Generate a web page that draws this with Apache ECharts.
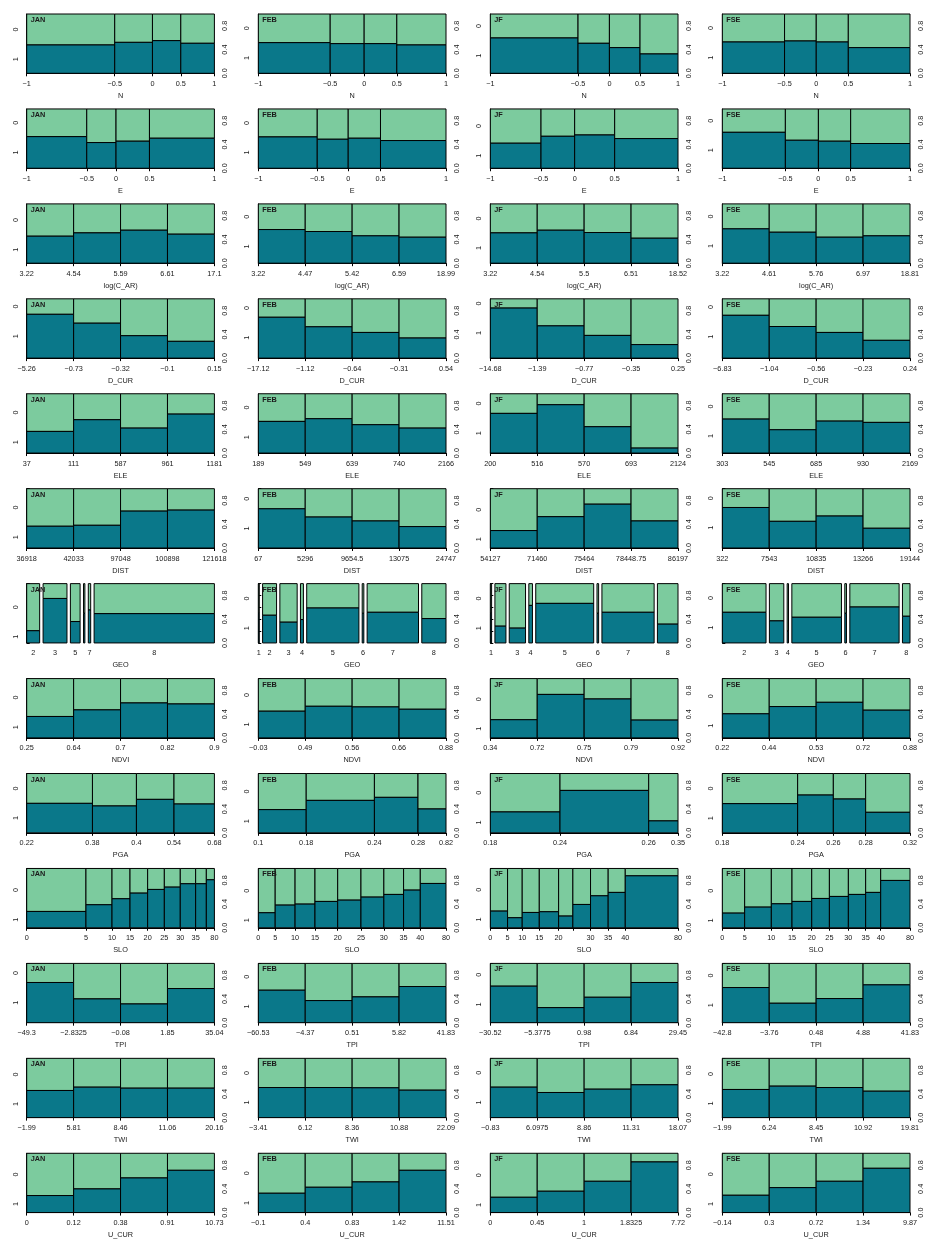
<!DOCTYPE html>
<html>
<head>
<meta charset="utf-8">
<script src="https://cdn.jsdelivr.net/npm/echarts@6/dist/echarts.min.js"></script>
<style>
html, body { margin: 0; padding: 0; background: #fff; }
#chart { width: 926px; height: 1240px; }
</style>
</head>
<body>
<div id="chart"></div>
<script>
// Spinograms of the binary response (1 = dark, 0 = light) against each predictor,
// one column per season subset.
const seasons = ['JAN', 'FEB', 'JF', 'FSE'];
const Q = [0.25, 0.25, 0.25, 0.25];

// ---- N ----
const N_breaks = [['-1','-0.5','0','0.5','1'], ['-1','-0.5','0','0.5','1'], ['-1','-0.5','0','0.5','1'], ['-1','-0.5','0','0.5','1']];
const N_share = [[0.469,0.201,0.151,0.179], [0.383,0.181,0.174,0.262], [0.467,0.167,0.163,0.202], [0.332,0.169,0.171,0.329]];
const N_prop1 = [[0.478,0.522,0.551,0.506], [0.517,0.500,0.500,0.478], [0.596,0.506,0.433,0.326], [0.528,0.545,0.528,0.433]];

// ---- E ----
const E_breaks = N_breaks;
const E_share = [[0.320,0.156,0.178,0.346], [0.314,0.165,0.172,0.349], [0.270,0.179,0.213,0.337], [0.336,0.176,0.172,0.316]];
const E_prop1 = [[0.533,0.433,0.456,0.506], [0.528,0.489,0.506,0.467], [0.422,0.539,0.561,0.500], [0.606,0.472,0.456,0.417]];

// ---- log(C_AR) ----
const CAR_breaks = [['3.22','4.54','5.59','6.61','17.1'], ['3.22','4.47','5.42','6.59','18.99'], ['3.22','4.54','5.5','6.51','18.52'], ['3.22','4.61','5.76','6.97','18.81']];
const CAR_share = [Q, Q, Q, Q];
const CAR_prop1 = [[0.455,0.511,0.556,0.489], [0.567,0.534,0.461,0.438], [0.511,0.556,0.517,0.421], [0.579,0.522,0.438,0.461]];

// ---- D_CUR ----
const DCUR_breaks = [['-5.26','-0.73','-0.32','-0.1','0.15'], ['-17.12','-1.12','-0.64','-0.31','0.54'], ['-14.68','-1.39','-0.77','-0.35','0.25'], ['-6.83','-1.04','-0.56','-0.23','0.24']];
const DCUR_share = [Q, Q, Q, Q];
const DCUR_prop1 = [[0.739,0.589,0.378,0.283], [0.689,0.528,0.433,0.339], [0.844,0.544,0.383,0.228], [0.722,0.533,0.433,0.300]];

// ---- ELE ----
const ELE_breaks = [['37','111','587','961','1181'], ['189','549','639','740','2166'], ['200','516','570','693','2124'], ['303','545','685','930','2169']];
const ELE_share = [Q, Q, Q, Q];
const ELE_prop1 = [[0.365,0.562,0.421,0.657], [0.534,0.579,0.478,0.421], [0.669,0.815,0.444,0.084], [0.573,0.393,0.539,0.517]];

// ---- DIST ----
const DIST_breaks = [['36918','42033','97048','100898','121618'], ['67','5296','9654.5','13075','24747'], ['54127','71460','75464','78448.75','86197'], ['322','7543','10835','13266','19144']];
const DIST_share = [Q, Q, Q, Q];
const DIST_prop1 = [[0.367,0.383,0.622,0.639], [0.661,0.522,0.456,0.361], [0.294,0.528,0.739,0.456], [0.683,0.450,0.539,0.333]];

// ---- GEO (categorical) ----
const GEO_levels = [['2','3','5','6','7','8'], ['1','2','3','4','5','6','7','8'], ['1','2','3','4','5','6','7','8'], ['2','3','4','5','6','7','8']];
const GEO_share = [[0.076,0.140,0.057,0.008,0.014,0.705], [0.006,0.085,0.105,0.018,0.317,0.010,0.312,0.147], [0.008,0.067,0.099,0.022,0.352,0.010,0.317,0.125], [0.261,0.086,0.008,0.296,0.010,0.294,0.045]];
const GEO_prop1 = [[0.206,0.750,0.361,0.500,0.556,0.494], [0.500,0.467,0.350,0.394,0.589,0.500,0.517,0.411], [0.500,0.283,0.250,0.633,0.667,0.500,0.517,0.317], [0.517,0.372,0.200,0.433,0.500,0.606,0.450]];
const GEO_hidden = [['6'], [], ['2'], []];

// ---- NDVI ----
const NDVI_breaks = [['0.25','0.64','0.7','0.82','0.9'], ['-0.03','0.49','0.56','0.66','0.88'], ['0.34','0.72','0.75','0.79','0.92'], ['0.22','0.44','0.53','0.72','0.88']];
const NDVI_share = [Q, Q, Q, Q];
const NDVI_prop1 = [[0.361,0.472,0.589,0.572], [0.450,0.533,0.522,0.483], [0.306,0.733,0.656,0.300], [0.406,0.528,0.600,0.467]];

// ---- PGA ----
const PGA_breaks = [['0.22','0.38','0.4','0.54','0.68'], ['0.1','0.18','0.24','0.28','0.82'], ['0.18','0.24','0.26','0.35'], ['0.18','0.24','0.26','0.28','0.32']];
const PGA_share = [[0.350,0.234,0.200,0.215], [0.255,0.363,0.232,0.149], [0.371,0.472,0.156], [0.401,0.190,0.172,0.236]];
const PGA_prop1 = [[0.497,0.453,0.564,0.486], [0.391,0.547,0.598,0.402], [0.352,0.715,0.201], [0.492,0.637,0.570,0.346]];

// ---- SLO ----
const SLO_b = ['0','5','10','15','20','25','30','35','40','80'];
const SLO_breaks = [SLO_b, SLO_b, SLO_b, SLO_b];
const SLO_share = [[0.316,0.139,0.096,0.094,0.089,0.085,0.082,0.057,0.043], [0.090,0.106,0.106,0.121,0.124,0.122,0.105,0.089,0.137], [0.092,0.078,0.091,0.103,0.076,0.094,0.094,0.091,0.281], [0.119,0.142,0.110,0.105,0.094,0.101,0.092,0.080,0.156]];
const SLO_prop1 = [[0.275,0.388,0.489,0.584,0.646,0.685,0.742,0.742,0.809], [0.253,0.382,0.399,0.444,0.466,0.517,0.562,0.635,0.747], [0.281,0.169,0.258,0.270,0.197,0.393,0.539,0.596,0.876], [0.247,0.348,0.404,0.444,0.494,0.528,0.562,0.596,0.798]];
const SLO_hidden = [['40'], [], ['25'], []];

// ---- TPI ----
const TPI_breaks = [['-49.3','-2.8325','-0.08','1.85','35.04'], ['-60.53','-4.37','0.51','5.82','41.83'], ['-30.52','-5.3775','0.98','6.84','29.45'], ['-42.8','-3.76','0.48','4.88','41.83']];
const TPI_share = [Q, Q, Q, Q];
const TPI_prop1 = [[0.678,0.401,0.316,0.576], [0.548,0.373,0.435,0.610], [0.616,0.254,0.429,0.678], [0.593,0.328,0.407,0.638]];

// ---- TWI ----
const TWI_breaks = [['-1.99','5.81','8.46','11.06','20.16'], ['-3.41','6.12','8.36','10.88','22.09'], ['-0.83','6.0975','8.86','11.31','18.07'], ['-1.99','6.24','8.45','10.92','19.81']];
const TWI_share = [Q, Q, Q, Q];
const TWI_prop1 = [[0.458,0.514,0.497,0.497], [0.508,0.508,0.503,0.463], [0.514,0.424,0.480,0.554], [0.475,0.531,0.508,0.446]];

// ---- U_CUR ----
const UCUR_breaks = [['0','0.12','0.38','0.91','10.73'], ['-0.1','0.4','0.83','1.42','11.51'], ['0','0.45','1','1.8325','7.72'], ['-0.14','0.3','0.72','1.34','9.87']];
const UCUR_share = [Q, Q, Q, Q];
const UCUR_prop1 = [[0.287,0.399,0.584,0.713], [0.326,0.427,0.517,0.713], [0.258,0.360,0.528,0.854], [0.292,0.421,0.528,0.747]];

const rows = [
  { name: 'N', labels: N_breaks, share: N_share, prop1: N_prop1 },
  { name: 'E', labels: E_breaks, share: E_share, prop1: E_prop1 },
  { name: 'log(C_AR)', labels: CAR_breaks, share: CAR_share, prop1: CAR_prop1 },
  { name: 'D_CUR', labels: DCUR_breaks, share: DCUR_share, prop1: DCUR_prop1 },
  { name: 'ELE', labels: ELE_breaks, share: ELE_share, prop1: ELE_prop1 },
  { name: 'DIST', labels: DIST_breaks, share: DIST_share, prop1: DIST_prop1 },
  { name: 'GEO', labels: GEO_levels, share: GEO_share, prop1: GEO_prop1, hidden: GEO_hidden, factor: true },
  { name: 'NDVI', labels: NDVI_breaks, share: NDVI_share, prop1: NDVI_prop1 },
  { name: 'PGA', labels: PGA_breaks, share: PGA_share, prop1: PGA_prop1 },
  { name: 'SLO', labels: SLO_breaks, share: SLO_share, prop1: SLO_prop1, hidden: SLO_hidden },
  { name: 'TPI', labels: TPI_breaks, share: TPI_share, prop1: TPI_prop1 },
  { name: 'TWI', labels: TWI_breaks, share: TWI_share, prop1: TWI_prop1 },
  { name: 'U_CUR', labels: UCUR_breaks, share: UCUR_share, prop1: UCUR_prop1 }
];

const DARK = '#0a788a';
const LIGHT = '#7ccb9e';
const INK = '#1a1a1a';
const FONT = '"Liberation Sans", Arial, Helvetica, sans-serif';
const FS = 7.3;
const OFF = 0.02;           // gap between categorical bars

const COL_LEFT = [26.7, 258.3, 490.3, 722.3];
const ROW_TOP0 = 14, ROW_STEP = 94.94;
const GW = 187.7, GH = 59.3;

const option = {
  backgroundColor: '#fff',
  animation: false,
  textStyle: { fontFamily: FONT },
  title: [], grid: [], xAxis: [], yAxis: [], series: []
};

const minus = s => String(s).replace(/^-/, '\u2212');

function nearestLabel(positions, labels) {
  return function (v) {
    let best = 0, d = Infinity;
    positions.forEach((p, i) => { const dd = Math.abs(p - v); if (dd < d) { d = dd; best = i; } });
    return minus(labels[best]);
  };
}

rows.forEach((row, r) => {
  seasons.forEach((season, c) => {
    const k = r * 4 + c;
    const left = COL_LEFT[c];
    const top = ROW_TOP0 + ROW_STEP * r;
    const raw = row.share[c];
    const sum = raw.reduce((a, b) => a + b, 0);
    const share = raw.map(v => v / sum);
    const prop = row.prop1[c];
    const lab = row.labels[c];
    const hidden = row.hidden ? row.hidden[c] : [];
    const n = share.length;

    // bar extents along x
    const bars = [];
    let acc = 0;
    for (let i = 0; i < n; i++) {
      const gap = row.factor ? OFF * i : 0;
      const x0 = acc + gap;
      const x1 = (i === n - 1 && !row.factor) ? 1 : acc + share[i] + gap;
      bars.push([x0, x1, prop[i]]);
      acc += share[i];
    }
    const total = row.factor ? 1 + OFF * (n - 1) : 1;
    if (row.factor) bars[n - 1][1] = total;

    let tickPos, labelPos, labelTxt;
    if (row.factor) {
      tickPos = [];
      labelPos = bars.map(b => (b[0] + b[1]) / 2);
      labelTxt = lab;
    } else {
      tickPos = [0].concat(bars.map(b => b[1]));
      labelPos = tickPos;
      labelTxt = lab;
    }
    const shownPos = labelPos.filter((p, i) => hidden.indexOf(labelTxt[i]) < 0);

    option.grid.push({ left: left, top: top, width: GW, height: GH });

    option.title.push({
      text: season, left: left + 4, top: top + 2.5, padding: 0, z: 10,
      textStyle: { fontSize: FS, fontWeight: 'bold', color: INK, fontFamily: FONT }
    });

    option.xAxis.push({
      gridIndex: k, type: 'value', min: 0, max: total,
      name: row.name, nameLocation: 'middle', nameGap: 19,
      nameTextStyle: { fontSize: FS, color: INK, fontFamily: FONT },
      axisLine: { show: !row.factor, onZero: false, lineStyle: { color: '#000', width: 1 } },
      axisTick: { show: !row.factor, customValues: tickPos, length: 3, lineStyle: { color: '#000', width: 1 } },
      axisLabel: {
        customValues: shownPos, formatter: nearestLabel(labelPos, labelTxt),
        fontSize: FS, color: INK, margin: 7, fontFamily: FONT
      },
      splitLine: { show: false }
    });

    // right axis: proportion scale
    option.yAxis.push({
      gridIndex: k, type: 'value', min: 0, max: 1, interval: 0.2, position: 'right',
      axisLine: { show: true, lineStyle: { color: '#000', width: 1 } },
      axisTick: { show: true, length: 3, lineStyle: { color: '#000', width: 1 } },
      axisLabel: {
        rotate: 90, fontSize: FS, color: INK, margin: 7.5, fontFamily: FONT,
        formatter: v => ([0, 4, 8].indexOf(Math.round(v * 10)) >= 0 ? v.toFixed(1) : '')
      },
      splitLine: { show: false }
    });

    // left axis: response levels at the midpoints of the first bar
    const p0 = prop[0];
    option.yAxis.push({
      gridIndex: k, type: 'value', min: 0, max: 1, position: 'left',
      axisLine: { show: false }, axisTick: { show: false }, splitLine: { show: false },
      axisLabel: {
        rotate: 90, fontSize: FS, color: INK, margin: 7.5, fontFamily: FONT,
        customValues: [p0 / 2, (1 + p0) / 2],
        formatter: v => (v < p0 ? '1' : '0')
      }
    });

    option.series.push({
      type: 'custom', xAxisIndex: k, yAxisIndex: 2 * k,
      encode: { x: [0, 1], y: 2 },
      data: bars,
      renderItem: function (params, api) {
        const x0 = api.value(0), x1 = api.value(1), p = api.value(2);
        const a = api.coord([x0, 0]);
        const b = api.coord([x1, p]);
        const t = api.coord([x1, 1]);
        const w = b[0] - a[0];
        return {
          type: 'group',
          children: [
            { type: 'rect', shape: { x: a[0], y: t[1], width: w, height: b[1] - t[1] },
              style: { fill: LIGHT, stroke: '#000', lineWidth: 1 } },
            { type: 'rect', shape: { x: a[0], y: b[1], width: w, height: a[1] - b[1] },
              style: { fill: DARK, stroke: '#000', lineWidth: 1 } }
          ]
        };
      }
    });
  });
});

const chart = echarts.init(document.getElementById('chart'), null, { renderer: 'canvas' });
chart.setOption(option);
</script>
</body>
</html>
